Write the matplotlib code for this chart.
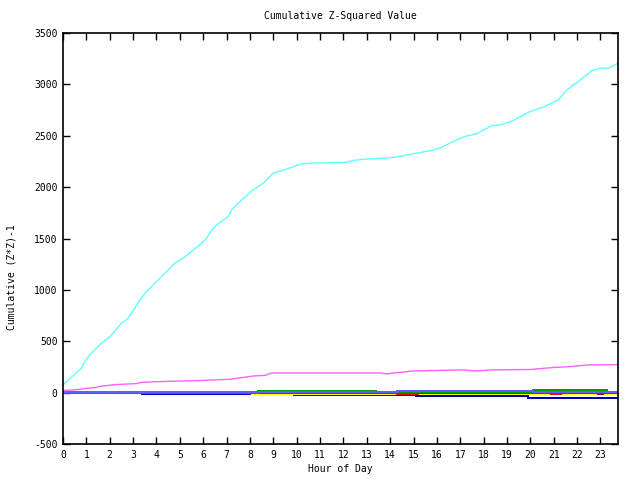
import matplotlib
matplotlib.use("Agg")
import matplotlib.pyplot as plt

# cumulative (Z*Z)-1 per series
cyan_h = [0, 0.8, 0.94, 1.16, 1.44, 1.66, 1.94, 2.15, 2.51, 2.72, 2.94, 3.3, 3.58,
          3.94, 4.15, 4.51, 4.79, 5.15, 5.51, 5.86, 6.15, 6.43, 6.72, 7.08, 7.22,
          7.65, 8.15, 8.58, 9.0, 9.58, 10.15, 10.65, 12.07, 12.43, 12.93, 13.86,
          14.43, 15.14, 15.71, 16.14, 16.7, 17.2, 17.7, 18.34, 18.77, 19.27, 19.99,
          20.56, 21.2, 21.56, 22.06, 22.63, 22.99, 23.34, 23.77]
cyan_v = [75, 240, 305, 370, 435, 483, 532, 580, 678, 710, 775, 905, 985, 1067,
          1115, 1196, 1261, 1310, 1375, 1440, 1505, 1602, 1657, 1715, 1780, 1877,
          1975, 2040, 2137, 2176, 2224, 2234, 2240, 2260, 2273, 2283, 2299, 2331,
          2354, 2380, 2445, 2493, 2519, 2597, 2607, 2649, 2736, 2779, 2850, 2947,
          3028, 3135, 3158, 3158, 3207]

magenta_h = [0, 0.65, 0.94, 1.37, 1.66, 2.23, 3.15, 3.37, 4.08, 6.15, 7.15, 7.43,
             8.15, 8.65, 8.93, 13.6, 13.85, 14.14, 14.64, 14.93, 17.14, 17.64,
             18.35, 20.0, 20.5, 21.0, 21.5, 22.0, 22.5, 23.75]
magenta_v = [20, 30, 40, 50, 63, 78, 88, 100, 107, 120, 130, 139, 162, 168, 191,
             191, 182, 191, 201, 211, 221, 211, 221, 225, 235, 245, 250, 260, 270, 272]

# near-zero series, step shaped
green_h = [0, 8.35, 8.86, 13.4, 20.1, 23.3, 23.75]
green_v = [0, 15, 13, 4, 24, 6, 6]

lightblue_h = [0, 9.0, 14.3, 15.0, 16.8, 17.1, 17.3, 18.3, 19.1, 20.1, 23.75]
lightblue_v = [7, 8, 16, 12, 18, 12, 18, 12, 16, 10, 10]

blue_h = [0, 1.5, 2.0, 3.3, 3.8, 10.0, 14.0, 15.4, 23.75]
blue_v = [0, -3, 0, -3, 0, 0, 5, 0, 0]

yellow_h = [0, 1.9, 2.7, 8.1, 23.75]
yellow_v = [0, 5, 0, -13, -13]

red_h = [0, 0.6, 1.0, 3.3, 5.3, 7.1, 13.7, 14.3, 15.2, 19.1, 20.9, 21.3, 23.75]
red_v = [0, 3, 0, -5, 0, -3, -5, -16, -8, -7, -10, -5, -5]

darkblue_h = [0, 3.4, 9.9, 15.1, 19.9, 23.75]
darkblue_v = [-3, -13, -22, -35, -48, -48]

darkred_h = [0, 22.9, 23.1, 23.75]
darkred_v = [-8, -13, -8, -8]

hour_ticks = list(range(24))
value_ticks = list(range(-500, 3501, 500))

fig = plt.figure(figsize=(6.4, 4.8), dpi=100)
ax = fig.add_axes([63 / 640, 1 - 444 / 480, 555 / 640, 411 / 480])

font = {"family": "DejaVu Sans Mono", "size": 7}

steps = [
    (darkblue_h, darkblue_v, "#0000b0"),
    (yellow_h, yellow_v, "#ffff00"),
    (darkred_h, darkred_v, "#a00000"),
    (blue_h, blue_v, "#0000ff"),
    (red_h, red_v, "#ff0000"),
    (green_h, green_v, "#00a000"),
    (lightblue_h, lightblue_v, "#5f5fff"),
]
for h, v, c in steps:
    ax.step(h, v, where="post", color=c, linewidth=1.2, antialiased=False)

ax.plot(magenta_h, magenta_v, color="#ff5fff", linewidth=1.0)
ax.plot(cyan_h, cyan_v, color="#5fffff", linewidth=1.0)

ax.set_xlim(0, 23.75)
ax.set_ylim(-500, 3500)
ax.set_xticks(hour_ticks)
ax.set_xticklabels([str(h) for h in hour_ticks], fontdict=font)
ax.set_yticks(value_ticks)
ax.set_yticklabels([str(v) for v in value_ticks], fontdict=font)
ax.tick_params(direction="in", length=5, width=1, top=True, right=True, pad=4)
for s in ax.spines.values():
    s.set_linewidth(1.2)

fig.text(340 / 640, 1 - 16 / 480, "Cumulative Z-Squared Value", ha="center", va="center", **font)
fig.text(340 / 640, 1 - 469 / 480, "Hour of Day", ha="center", va="center", **font)
fig.text(12 / 640, 1 - 277 / 480, "Cumulative (Z*Z)-1", ha="center", va="center",
         rotation=90, **font)

fig.savefig("out.png", dpi=100)
